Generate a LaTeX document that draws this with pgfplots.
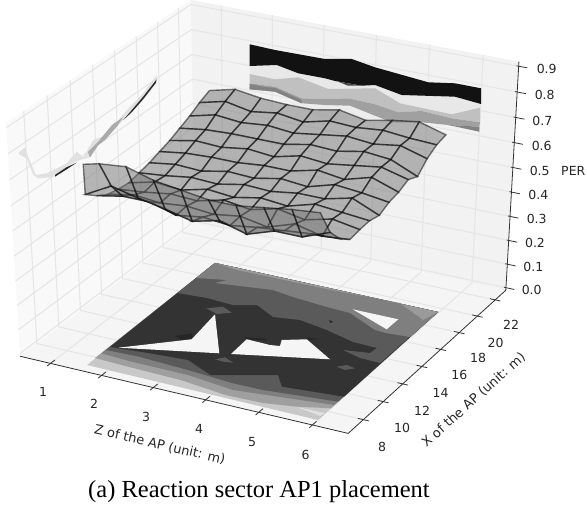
\documentclass[border=0pt]{standalone}
\usepackage{pgfplots}
\pgfplotsset{compat=1.18}
\usepackage{fontspec}
\setmainfont{DejaVu Sans}
\newfontfamily\capfont{Liberation Serif}
\definecolor{gridc}{gray}{0.90}
\definecolor{axc}{gray}{0.2}
% perspective projection of (Z, X, PER) on the picture, camera azimuth -62.5, elevation 33, distance 10
\def\QX{((\thisrow{x}-0.40)/6.26-0.5)}
\def\QY{((\thisrow{y}-6.5)/16.7-0.5)}
\def\QZ{((\thisrow{z}+0.011)/0.929-0.5)}
\def\DEN{(10-(0.3872*\QX-0.7439*\QY+0.5446*\QZ))}
\pgfkeys{/pgfplots/table/proj/.style={
  x expr={267.2+3698*(0.8870*\QX+0.4617*\QY)/\DEN},
  y expr={210.3-2753*(-0.2514*\QX+0.4831*\QY+0.8387*\QZ)/\DEN}}}
\begin{document}
\begin{tikzpicture}
\useasboundingbox (0,0) rectangle (587pt,508pt);
\begin{axis}[at={(0,0)},anchor=south west,scale only axis,width=587pt,height=508pt,
  xmin=0,xmax=587,ymin=0,ymax=508,y dir=reverse,hide axis,clip=true,
  colormap={mono}{gray(0cm)=(0.45); gray(1cm)=(0.45)},point meta min=0,point meta max=1]
% panes
\addplot[fill={rgb,1:red,0.961;green,0.961;blue,0.961},draw=none,forget plot] table[proj,row sep=\\]{x y z\\ 0.4 6.5 -0.011\\ 6.66 6.5 -0.011\\ 6.66 23.2 -0.011\\ 0.4 23.2 -0.011\\ 0.4 6.5 -0.011\\};
\addplot[fill={rgb,1:red,0.975;green,0.975;blue,0.975},draw=none,forget plot] table[proj,row sep=\\]{x y z\\ 0.4 6.5 -0.011\\ 0.4 23.2 -0.011\\ 0.4 23.2 0.918\\ 0.4 6.5 0.918\\ 0.4 6.5 -0.011\\};
\addplot[fill={rgb,1:red,0.95;green,0.95;blue,0.95},draw=none,forget plot] table[proj,row sep=\\]{x y z\\ 0.4 23.2 -0.011\\ 6.66 23.2 -0.011\\ 6.66 23.2 0.918\\ 0.4 23.2 0.918\\ 0.4 23.2 -0.011\\};
% grid
\pgfplotsinvokeforeach{1,2,3,4,5,6}{
  \addplot[gridc,line width=1pt,forget plot] table[proj,row sep=\\]{x y z\\ #1 6.5 -0.011\\ #1 23.2 -0.011\\ #1 23.2 0.918\\};
}
\pgfplotsinvokeforeach{8,10,12,14,16,18,20,22}{
  \addplot[gridc,line width=1pt,forget plot] table[proj,row sep=\\]{x y z\\ 6.66 #1 -0.011\\ 0.4 #1 -0.011\\ 0.4 #1 0.918\\};
}
\pgfplotsinvokeforeach{0.0,0.1,0.2,0.3,0.4,0.5,0.6,0.7,0.8,0.9}{
  \addplot[gridc,line width=1pt,forget plot] table[proj,row sep=\\]{x y z\\ 0.4 6.5 #1\\ 0.4 23.2 #1\\ 6.66 23.2 #1\\};
}
% floor contours (picture coordinates)
\addplot[fill={rgb,255:red,200;green,200;blue,200},draw=none,forget plot] coordinates {(87,365)(318,420)(438,312)(215,263)} --cycle;
\addplot[fill={rgb,255:red,159;green,159;blue,159},draw=none,forget plot] coordinates {(95,358)(128,366.7)(180.5,380)(225.6,395)(263,403)(297,406.7)(331,408.3)(438,312)(215,263)} --cycle;
\addplot[fill={rgb,255:red,127;green,127;blue,127},draw=none,forget plot] coordinates {(101.5,353.3)(131.6,361.7)(188,375)(233,390)(278,396.7)(334,405)(438,312)(215,263)} --cycle;
\addplot[fill={rgb,255:red,90;green,90;blue,90},draw=none,forget plot] coordinates {(106,350)(139,356.7)(188,370)(233,383.3)(263,390)(338,401.7)(438,312)(215,263)} --cycle;
\addplot[fill={rgb,255:red,51;green,51;blue,51},draw=none,forget plot] coordinates {(110,347)(150,353.3)(188,360)(210.5,375)(278,375)(282,386.7)(344,396.7)(438,312)(215,263)} --cycle;
\addplot[fill={rgb,255:red,90;green,90;blue,90},draw=none,forget plot] coordinates {(177.4,293)(207,298)(233,305)(257,305)(273,317)(300,320)(327,330)(353,342)(377,348)(370,353)(343,350)(360,358)(380,363)(438,312)(215,263)} --cycle;
\addplot[fill={rgb,255:red,127;green,127;blue,127},draw=none,forget plot] coordinates {(196,278)(227,280)(215,283)(273,290)(293,297)(327,307)(350,313)(375,330)(386,333)(410,337)(438,312)(215,263)} --cycle;
\addplot[fill={rgb,255:red,154;green,154;blue,154},draw=none,forget plot] coordinates {(215,263)(237,270)(327,289)(347,293)(400,303)(423,320)(438,312)} --cycle;
\addplot[fill={rgb,255:red,224;green,224;blue,224},draw=none,forget plot] coordinates {(297,407)(325,413)(320,416)} --cycle;
% floor patches
\addplot[fill={rgb,255:red,90;green,90;blue,90},draw=none,forget plot] coordinates {(206.7,308.3)(223,306.7)(231.7,312.7)(216.7,314)} --cycle;
\addplot[fill={rgb,255:red,90;green,90;blue,90},draw=none,forget plot] coordinates {(215,359.3)(225,357.3)(233.3,362.7)(223.3,361.7)} --cycle;
\addplot[fill={rgb,255:red,90;green,90;blue,90},draw=none,forget plot] coordinates {(336.7,366.7)(346.7,365)(355,368.3)(345,370)} --cycle;
\addplot[fill=black!85,draw=none,forget plot] coordinates {(175,336)(191.7,333.3)(192.3,338.3)(181.7,340)} --cycle;
\addplot[fill=black!85,draw=none,forget plot] coordinates {(245,337.3)(266.7,338.7)(266,340.5)(246,339)} --cycle;
\addplot[fill=black!85,draw=none,forget plot] coordinates {(306.7,337.3)(318,338.7)(310,340)} --cycle;
\addplot[fill=black!85,draw=none,forget plot] coordinates {(329.3,320)(333,321.7)(330,323)} --cycle;
% floor holes
\addplot[fill={rgb,255:red,245;green,245;blue,245},draw=none,forget plot] coordinates {(118.3,347.7)(191.7,339.3)(215,314.3)(219.3,353.3)} --cycle;
\addplot[fill={rgb,255:red,245;green,245;blue,245},draw=none,forget plot] coordinates {(231,354)(246.7,339.3)(270,345)(280,346)(281.7,340)(306.7,339.3)(330,359.3)} --cycle;
\addplot[fill={rgb,255:red,245;green,245;blue,245},draw=none,forget plot] coordinates {(352.7,309.3)(398.3,319.3)(386.7,329.3)} --cycle;
% left wall contour
\addplot[fill={rgb,255:red,225;green,225;blue,225},draw=none,forget plot] coordinates {(18.3,153.3)(25,147.3)(28.3,157.3)(36,175)(46.7,173.3)(66.7,163.3)(76.7,151.7)(83.3,157.3)(93.3,140)(110,133.3)(120,118.3)(130,106.7)(143.3,93.3)(156.7,75)(156.7,83.3)(143.3,100)(131.7,111.7)(116.7,126.7)(105,140)(98.3,145)(90,157.3)(81.7,159.3)(68.3,165)(51.7,177.3)(38.3,178.3)(33.3,175)(26.7,158.3)(20,155)} --cycle;
\addplot[fill={rgb,255:red,170;green,170;blue,170},draw=none,forget plot] coordinates {(112,125)(123.3,117)(116.7,126.7)(105,140)(98.3,145)(90,157.3)(88,152)(98,142)} --cycle;
\addplot[fill={rgb,255:red,40;green,40;blue,40},draw=none,forget plot] coordinates {(55,175)(66.7,167.2)(76.7,162.7)(68.3,168.3)(55,176.7)} --cycle;
\addplot[fill={rgb,255:red,40;green,40;blue,40},draw=none,forget plot] coordinates {(123.3,120)(131,111)(143.3,96.5)(156.7,79.3)(155.7,83)(143.3,99)(131.7,112.3)} --cycle;
% back wall contour
\addplot[fill={rgb,255:red,236;green,236;blue,236},draw=none,forget plot] coordinates {(301.7,103.3)(325,105)(350,105.7)(391.7,122.3)(391.7,125)(318,118)(285,100)} --cycle;
\addplot[fill={rgb,255:red,232;green,232;blue,232},draw=none,forget plot] coordinates {(249.7,66)(276.7,65)(298.3,73.3)(325,78.3)(335,81)(361.7,85.7)(375,85)(401.7,95)(455,96.7)(481,104)(480,107.7)(451.7,114.3)(400,103.3)(375,88.3)(328.3,89)(298.3,77.3)(275,79.3)(249.7,74)} --cycle;
\addplot[fill={rgb,255:red,192;green,192;blue,192},draw=none,forget plot] coordinates {(249.7,74)(275,79.3)(298.3,77.3)(328.3,89)(375,88.3)(400,103.3)(451.7,114.3)(480,107.7)(480,122.3)(451.7,118.3)(421.7,111)(398.3,112.3)(375,104.3)(348.3,98.3)(325,99)(301.7,98.3)(275,86.7)(249.7,83.3)} --cycle;
\addplot[fill={rgb,255:red,160;green,160;blue,160},draw=none,forget plot] coordinates {(249.7,83.3)(275,86.7)(301.7,98.3)(325,99)(348.3,98.3)(375,104.3)(398.3,112.3)(421.7,111)(451.7,118.3)(480,122.3)(479.3,126.7)(448.3,125)(421.7,122.3)(391.7,122.3)(350,105.7)(325,105)(301.7,103.3)(275,91.7)(249.7,89.3)} --cycle;
\addplot[fill={rgb,255:red,130;green,130;blue,130},draw=none,forget plot] coordinates {(249.7,84)(265,87)(275,88)(301.7,100)(301.7,103.3)(275,91.7)(249.7,89.3)} --cycle;
\addplot[fill={rgb,255:red,130;green,130;blue,130},draw=none,forget plot] coordinates {(448.3,125)(479.3,126.7)(479.3,131.7)} --cycle;
\addplot[fill={rgb,255:red,18;green,18;blue,18},draw=none,forget plot] coordinates {(249.7,44.3)(275,50)(325,59)(351.7,59)(375,67.3)(428.3,82.3)(455,83.3)(481,88.3)(481,104)(455,96.7)(401.7,95)(375,85)(361.7,85.7)(335,81)(325,78.3)(298.3,73.3)(276.7,65)(249.7,66)} --cycle;
\addplot[fill={rgb,255:red,68;green,68;blue,68},draw=none,forget plot] coordinates {(338.3,81.7)(361.7,85.7)(348,85.7)} --cycle;
% PER surface
\addplot[surf,shader=faceted,faceted color=black,mesh/rows=14,mesh/ordering=x varies,point meta=0.5,opacity=0.5,line width=1.4pt,forget plot] table[proj]{
x y z
1.5 19.5 0.705
2.0 19.5 0.73
2.5 19.5 0.715
3.0 19.5 0.71
3.5 19.5 0.71
4.0 19.5 0.73
4.5 19.5 0.71
5.0 19.5 0.73
5.5 19.5 0.745
6.0 19.5 0.715
1.5 18.54 0.685
2.0 18.54 0.71
2.5 18.54 0.69
3.0 18.54 0.705
3.5 18.54 0.69
4.0 18.54 0.715
4.5 18.54 0.71
5.0 18.54 0.72
5.5 18.54 0.71
6.0 18.54 0.705
1.5 17.58 0.66
2.0 17.58 0.685
2.5 17.58 0.675
3.0 17.58 0.685
3.5 17.58 0.675
4.0 17.58 0.69
4.5 17.58 0.705
5.0 17.58 0.695
5.5 17.58 0.71
6.0 17.58 0.68
1.5 16.62 0.64
2.0 16.62 0.655
2.5 16.62 0.66
3.0 16.62 0.66
3.5 16.62 0.66
4.0 16.62 0.68
4.5 16.62 0.675
5.0 16.62 0.695
5.5 16.62 0.685
6.0 16.62 0.64
1.5 15.66 0.62
2.0 15.66 0.64
2.5 15.66 0.635
3.0 15.66 0.65
3.5 15.66 0.64
4.0 15.66 0.665
4.5 15.66 0.655
5.0 15.66 0.67
5.5 15.66 0.685
6.0 15.66 0.658
1.5 14.7 0.605
2.0 14.7 0.62
2.5 14.7 0.625
3.0 14.7 0.625
3.5 14.7 0.635
4.0 14.7 0.635
4.5 14.7 0.66
5.0 14.7 0.645
5.5 14.7 0.675
6.0 14.7 0.639
1.5 13.74 0.59
2.0 13.74 0.605
2.5 13.74 0.60
3.0 13.74 0.62
3.5 13.74 0.615
4.0 13.74 0.635
4.5 13.74 0.625
5.0 13.74 0.655
5.5 13.74 0.645
6.0 13.74 0.63
1.5 12.78 0.58
2.0 12.78 0.59
2.5 12.78 0.605
3.0 12.78 0.60
3.5 12.78 0.62
4.0 12.78 0.615
4.5 12.78 0.63
5.0 12.78 0.63
5.5 12.78 0.655
6.0 12.78 0.61
1.5 11.82 0.57
2.0 11.82 0.595
2.5 11.82 0.585
3.0 11.82 0.61
3.5 11.82 0.60
4.0 11.82 0.62
4.5 11.82 0.61
5.0 11.82 0.64
5.5 11.82 0.63
6.0 11.82 0.62
1.5 10.86 0.575
2.0 10.86 0.585
2.5 10.86 0.60
3.0 10.86 0.595
3.5 10.86 0.62
4.0 10.86 0.605
4.5 10.86 0.63
5.0 10.86 0.61
5.5 10.86 0.635
6.0 10.86 0.617
1.5 9.9 0.585
2.0 9.9 0.605
2.5 9.9 0.595
3.0 9.9 0.605
3.5 9.9 0.595
4.0 9.9 0.61
4.5 9.9 0.59
5.0 9.9 0.625
5.5 9.9 0.60
6.0 9.9 0.61
1.5 8.94 0.61
2.0 8.94 0.63
2.5 8.94 0.63
3.0 8.94 0.60
3.5 8.94 0.615
4.0 8.94 0.605
4.5 8.94 0.62
5.0 8.94 0.63
5.5 8.94 0.64
6.0 8.94 0.644
1.5 7.98 0.645
2.0 7.98 0.70
2.5 7.98 0.675
3.0 7.98 0.655
3.5 7.98 0.63
4.0 7.98 0.655
4.5 7.98 0.625
5.0 7.98 0.66
5.5 7.98 0.66
6.0 7.98 0.70
1.7 7.02 0.80
2.0 7.02 0.815
2.5 7.02 0.825
3.0 7.02 0.795
3.5 7.02 0.78
4.0 7.02 0.765
4.5 7.02 0.765
5.0 7.02 0.78
5.5 7.02 0.795
6.0 7.02 0.805
};
% axis lines
\addplot[axc,line width=0.8pt,forget plot] table[proj,row sep=\\]{x y z\\ 0.4 6.5 -0.011\\ 6.66 6.5 -0.011\\ 6.66 23.2 -0.011\\ 6.66 23.2 0.918\\};
% ticks
\pgfplotsinvokeforeach{1,2,3,4,5,6}{
  \addplot[axc,line width=0.8pt,forget plot] table[proj,row sep=\\]{x y z\\ #1 6.2 -0.011\\ #1 6.9 -0.011\\};
}
\pgfplotsinvokeforeach{8,10,12,14,16,18,20,22}{
  \addplot[axc,line width=0.8pt,forget plot] table[proj,row sep=\\]{x y z\\ 6.56 #1 -0.011\\ 6.76 #1 -0.011\\};
}
\pgfplotsinvokeforeach{0.0,0.1,0.2,0.3,0.4,0.5,0.6,0.7,0.8,0.9}{
  \addplot[axc,line width=0.8pt,forget plot] table[proj,row sep=\\]{x y z\\ 6.62 23.2 #1\\ 6.82 23.2 #1\\};
}
% tick labels
\tikzset{tl/.style={font=\fontsize{12.5}{12.5}\selectfont,text=black!85,inner sep=0pt,anchor=center},
  tt/.style={font=\fontsize{13}{13}\selectfont,text=black!85,inner sep=0pt,anchor=center}}
\node[tl] at (axis cs:43,391.7) {1};
\node[tl] at (axis cs:94,404) {2};
\node[tl] at (axis cs:146,417.3) {3};
\node[tl] at (axis cs:199,429) {4};
\node[tl] at (axis cs:252,441.7) {5};
\node[tl] at (axis cs:305.6,455) {6};
\node[tl] at (axis cs:382,446.7) {8};
\node[tl] at (axis cs:402,428.3) {10};
\node[tl] at (axis cs:422,410.7) {12};
\node[tl] at (axis cs:440.6,393.3) {14};
\node[tl] at (axis cs:459.4,375) {16};
\node[tl] at (axis cs:478,358.3) {18};
\node[tl] at (axis cs:495.5,342.7) {20};
\node[tl] at (axis cs:511,325) {22};
\node[tl] at (axis cs:531.7,290) {0.0};
\node[tl] at (axis cs:533.3,266.7) {0.1};
\node[tl] at (axis cs:535,243.3) {0.2};
\node[tl] at (axis cs:536.7,219.3) {0.3};
\node[tl] at (axis cs:538.3,195) {0.4};
\node[tl] at (axis cs:539.7,171) {0.5};
\node[tl] at (axis cs:541.7,145.7) {0.6};
\node[tl] at (axis cs:542.3,120.7) {0.7};
\node[tl] at (axis cs:544.7,95) {0.8};
\node[tl] at (axis cs:546.7,69.3) {0.9};
\node[tl] at (axis cs:573.3,171) {PER};
\node[tt,rotate=-13] at (axis cs:159.8,445) {Z of the AP (unit: m)};
\node[tt,rotate=42] at (axis cs:473.7,400) {X of the AP (unit: m)};
\node[inner sep=0pt,anchor=center,font=\capfont\fontsize{24.5}{24.5}\selectfont] at (axis cs:259,491.7) {(a) Reaction sector AP1 placement};
\end{axis}
\end{tikzpicture}
\end{document}
